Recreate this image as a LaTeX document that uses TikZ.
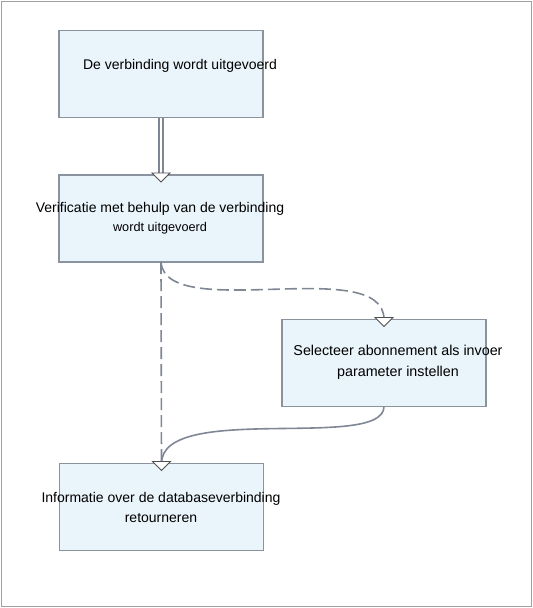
\documentclass[tikz,border=0pt]{standalone}
\usepackage{fontspec}
\setmainfont{Liberation Sans}
\definecolor{boxfill}{HTML}{EAF4FB}
\definecolor{boxline}{HTML}{8A939E}
\definecolor{conn}{HTML}{7F8794}
\definecolor{tipline}{HTML}{505050}
\definecolor{frame}{HTML}{A0A0A0}
\tikzset{
  box/.style={draw=boxline, fill=boxfill, line width=1.3pt, minimum width=204pt, minimum height=87pt, inner sep=0pt, outer sep=0pt},
  lbl/.style={align=center, inner sep=0pt, font=\fontsize{14}{20}\selectfont, text=black},
  connline/.style={draw=conn, line width=1.6pt},
  dashconn/.style={connline, dash pattern=on 12pt off 5pt},
  tipdown/.pic={\draw[fill=white, draw=tipline, line width=0.9pt, line join=miter] (-9,-2) -- (9,-2) -- (0,7) -- cycle;}
}
\begin{document}
\begin{tikzpicture}[x=1pt, y=-1pt]
\useasboundingbox (0,0) rectangle (533,608);
\draw[frame, line width=0.8pt] (1,1) rectangle (531,606);

\node[box] (A) at (161,74) {};
\node[box] (B) at (161,218.5) {};
\node[box] (C) at (384,363) {};
\node[box] (D) at (161.5,507) {};

\node[lbl] (At) at (180,66) {De verbinding wordt uitgevoerd};
\node[lbl] (Bt) at (160,218) {Verificatie met behulp van de verbinding\\[-1pt]{\fontsize{12.7}{14}\selectfont wordt uitgevoerd}};
\node[lbl, font=\fontsize{14.3}{21}\selectfont] (Ct) at (398,362.5) {Selecteer abonnement als invoer\\parameter instellen};
\node[lbl] (Dt) at (161,507) {Informatie over de databaseverbinding\\retourneren};

% connectors
\draw[draw=conn, line width=1.3pt, double=white, double distance=2.6pt] (A.south) -- ([yshift=-3]B.north);
\draw[dashconn] (B.south) -- (D.north);
\draw[dashconn] (B.south) .. controls +(5,62) and +(0,-66) .. (C.north);
\draw[connline] (C.south) .. controls +(0,45) and +(0,-62) .. (D.north);

% arrow tips
\pic at (B.north) {tipdown};
\pic at (C.north) {tipdown};
\pic at (D.north) {tipdown};
\end{tikzpicture}
\end{document}
